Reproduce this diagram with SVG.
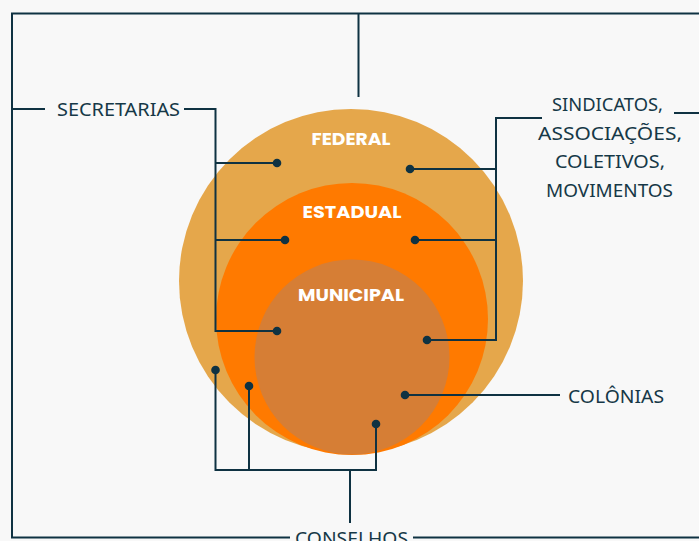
<svg xmlns="http://www.w3.org/2000/svg" width="699" height="541" viewBox="0 0 699 541">
  <style>
    .wire { fill: none; stroke: #0f3242; stroke-width: 2; stroke-linejoin: miter; }
    .dot { fill: #0f3242; }
    .level { font-family: "Poppins", "Open Sans", "Noto Sans", sans-serif; font-weight: 700; font-size: 18px; fill: #ffffff; text-anchor: middle; }
    .label { font-family: "Noto Sans", "Lato", sans-serif; font-weight: 400; font-size: 18px; fill: #163847; }
  </style>
  <rect width="699" height="541" fill="#f8f8f8"/>

  <!-- nested government levels -->
  <g id="federal">
    <circle cx="351" cy="281" r="172" fill="#e5a74b"/>
    <text class="level" x="351" y="145" textLength="79" lengthAdjust="spacingAndGlyphs">FEDERAL</text>
  </g>
  <g id="estadual">
    <circle cx="352" cy="319" r="136" fill="#ff7a00"/>
    <text class="level" x="352" y="218" textLength="99" lengthAdjust="spacingAndGlyphs">ESTADUAL</text>
  </g>
  <g id="municipal">
    <circle cx="352" cy="357" r="97.5" fill="#d67e35"/>
    <text class="level" x="351" y="301" textLength="106" lengthAdjust="spacingAndGlyphs">MUNICIPAL</text>
  </g>

  <!-- connectors -->
  <g id="connectors">
    <!-- outer frame -->
    <path class="wire" d="M699 13.5 H12 V537.5 H290"/>
    <path class="wire" d="M413 537.5 H699"/>
    <path class="wire" d="M358.5 13.5 V97"/>
    <!-- secretarias -->
    <path class="wire" d="M12 109 H45"/>
    <path class="wire" d="M184 109 H215.5 V331 H277"/>
    <path class="wire" d="M215.5 163 H277"/>
    <path class="wire" d="M215.5 240 H285"/>
    <!-- sindicatos -->
    <path class="wire" d="M674 113 H699"/>
    <path class="wire" d="M542 118 H496 V340 H427"/>
    <path class="wire" d="M496 169 H410"/>
    <path class="wire" d="M496 240 H415"/>
    <!-- colonias -->
    <path class="wire" d="M405 395 H560"/>
    <!-- conselhos -->
    <path class="wire" d="M215.5 370 V470 H376 V424"/>
    <path class="wire" d="M249 386 V470"/>
    <path class="wire" d="M350 470 V523"/>
    <!-- anchor dots -->
    <circle class="dot" cx="277" cy="163" r="4.3"/>
    <circle class="dot" cx="285" cy="240" r="4.3"/>
    <circle class="dot" cx="277" cy="331" r="4.3"/>
    <circle class="dot" cx="410" cy="169" r="4.3"/>
    <circle class="dot" cx="415" cy="240" r="4.3"/>
    <circle class="dot" cx="427" cy="340" r="4.3"/>
    <circle class="dot" cx="405" cy="395" r="4.3"/>
    <circle class="dot" cx="215.5" cy="370" r="4.3"/>
    <circle class="dot" cx="249" cy="386" r="4.3"/>
    <circle class="dot" cx="376" cy="424" r="4.3"/>
  </g>

  <!-- outside actors -->
  <g id="secretarias">
    <text class="label" x="57" y="116" textLength="123" lengthAdjust="spacingAndGlyphs">SECRETARIAS</text>
  </g>
  <g id="sindicatos">
    <text class="label" x="552" y="111" textLength="111" lengthAdjust="spacingAndGlyphs">SINDICATOS,</text>
    <text class="label" x="538" y="140" textLength="144" lengthAdjust="spacingAndGlyphs">ASSOCIAÇÕES,</text>
    <text class="label" x="555" y="168" textLength="110" lengthAdjust="spacingAndGlyphs">COLETIVOS,</text>
    <text class="label" x="546" y="197" textLength="127" lengthAdjust="spacingAndGlyphs">MOVIMENTOS</text>
  </g>
  <g id="colonias">
    <text class="label" x="568" y="403" textLength="96" lengthAdjust="spacingAndGlyphs">COLÔNIAS</text>
  </g>
  <g id="conselhos">
    <text class="label" x="295" y="545" textLength="113" lengthAdjust="spacingAndGlyphs">CONSELHOS</text>
  </g>
</svg>
